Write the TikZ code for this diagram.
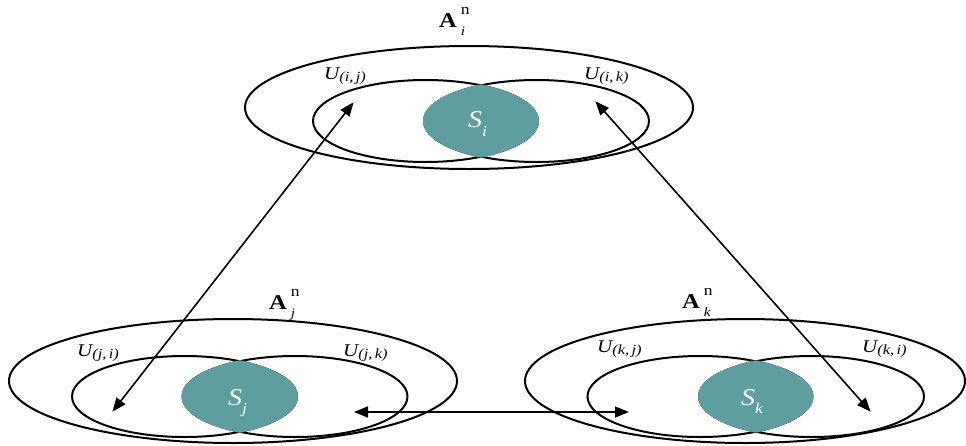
\documentclass[tikz,border=0pt]{standalone}
\usepackage{fontspec}
\setmainfont{Liberation Serif}[FakeStretch=1.17]
\usetikzlibrary{arrows.meta, positioning}
\definecolor{tealS}{RGB}{95,158,160}
\tikzset{
  ag/outer/.style={draw=black, line width=2pt},
  ag/inner/.style={draw=black, line width=2pt},
  ag/core/.style={fill=tealS, draw=tealS, line width=2pt},
  ag/name/.style={inner sep=0pt, anchor=base west,
    font=\fontsize{21}{24}\selectfont\bfseries},
  ag/nbr/.style={inner sep=0pt, anchor=base west,
    font=\fontsize{18}{20}\selectfont\itshape},
  ag/corelbl/.style={inner sep=0pt, anchor=base west, text=white,
    font=\fontsize{24}{26}\selectfont\itshape},
  ag/link/.style={{Triangle[length=14pt,width=11pt]}-{Triangle[length=14pt,width=11pt]},
    line width=1.6pt, shorten <=-1pt, shorten >=-1pt}
}

\begin{document}
\begin{tikzpicture}[x=1pt, y=-1pt]
  \useasboundingbox (0,0) rectangle (966,445);

  % agent i (top)
  \draw[ag/outer] (469,107.5) ellipse [x radius=224, y radius=61.5];
  \draw[ag/inner] (425.5,121) ellipse [x radius=112.5, y radius=41];
  \draw[ag/inner] (536.5,121) ellipse [x radius=112.5, y radius=41];
  \begin{scope}
    \clip (425.5,121) ellipse [x radius=113.5, y radius=42];
    \filldraw[ag/core] (536.5,121) ellipse [x radius=112.5, y radius=41];
  \end{scope}
  \node[ag/name] (Ai) at (439,27) {A\hspace{4pt}\makebox[0pt][l]{\raisebox{13pt}{\fontsize{15}{15}\selectfont\mdseries n}}\raisebox{-8pt}{\fontsize{13}{13}\selectfont\mdseries\itshape i}};
  \node[ag/nbr] (Uij) at (324,79) {U\raisebox{-2pt}{\fontsize{14}{14}\selectfont(i,\,j)}};
  \node[ag/nbr] (Uik) at (584,79) {U\raisebox{-2pt}{\fontsize{14}{14}\selectfont(i,\,k)}};
  \node[ag/corelbl] (Si) at (468,127) {S\raisebox{-9pt}{\fontsize{15}{15}\selectfont i}};

  % agent j (bottom left)
  \draw[ag/outer] (233,381) ellipse [x radius=224, y radius=62];
  \draw[ag/inner] (184.5,396.5) ellipse [x radius=112.5, y radius=40.5];
  \draw[ag/inner] (295,396.5) ellipse [x radius=112.5, y radius=40.5];
  \begin{scope}
    \clip (184.5,396.5) ellipse [x radius=113.5, y radius=41.5];
    \filldraw[ag/core] (295,396.5) ellipse [x radius=112.5, y radius=40.5];
  \end{scope}
  \node[ag/name] (Aj) at (269,309) {A\hspace{4pt}\makebox[0pt][l]{\raisebox{13pt}{\fontsize{15}{15}\selectfont\mdseries n}}\raisebox{-8pt}{\fontsize{13}{13}\selectfont\mdseries\itshape j}};
  \node[ag/nbr] (Uji) at (77,356) {U\raisebox{-2pt}{\fontsize{14}{14}\selectfont(j,\,i)}};
  \node[ag/nbr] (Ujk) at (343,356) {U\raisebox{-2pt}{\fontsize{14}{14}\selectfont(j,\,k)}};
  \node[ag/corelbl] (Sj) at (228,405) {S\raisebox{-8pt}{\fontsize{15}{15}\selectfont j}};

  % agent k (bottom right)
  \draw[ag/outer] (745,381) ellipse [x radius=220, y radius=62];
  \draw[ag/inner] (700,396.5) ellipse [x radius=112.5, y radius=40.5];
  \draw[ag/inner] (811.5,396.5) ellipse [x radius=112.5, y radius=40.5];
  \begin{scope}
    \clip (700,396.5) ellipse [x radius=113.5, y radius=41.5];
    \filldraw[ag/core] (811.5,396.5) ellipse [x radius=112.5, y radius=40.5];
  \end{scope}
  \node[ag/name] (Ak) at (682,308) {A\hspace{4pt}\makebox[0pt][l]{\raisebox{13pt}{\fontsize{15}{15}\selectfont\mdseries n}}\raisebox{-8pt}{\fontsize{13}{13}\selectfont\mdseries\itshape k}};
  \node[ag/nbr] (Ukj) at (597,352) {U\raisebox{-2pt}{\fontsize{14}{14}\selectfont(k,\,j)}};
  \node[ag/nbr] (Uki) at (862,352) {U\raisebox{-2pt}{\fontsize{14}{14}\selectfont(k,\,i)}};
  \node[ag/corelbl] (Sk) at (741,405) {S\raisebox{-8pt}{\fontsize{15}{15}\selectfont k}};

  % link end points
  \coordinate (pij) at (353,103);
  \coordinate (pik) at (596,102);
  \coordinate (pji) at (113,411);
  \coordinate (pjk) at (355,412);
  \coordinate (pkj) at (628,412);
  \coordinate (pki) at (870,411);

  \draw[ag/link] (pij) -- (pji);
  \draw[ag/link] (pik) -- (pki);
  \draw[ag/link] (pjk) -- (pkj);
\end{tikzpicture}
\end{document}
